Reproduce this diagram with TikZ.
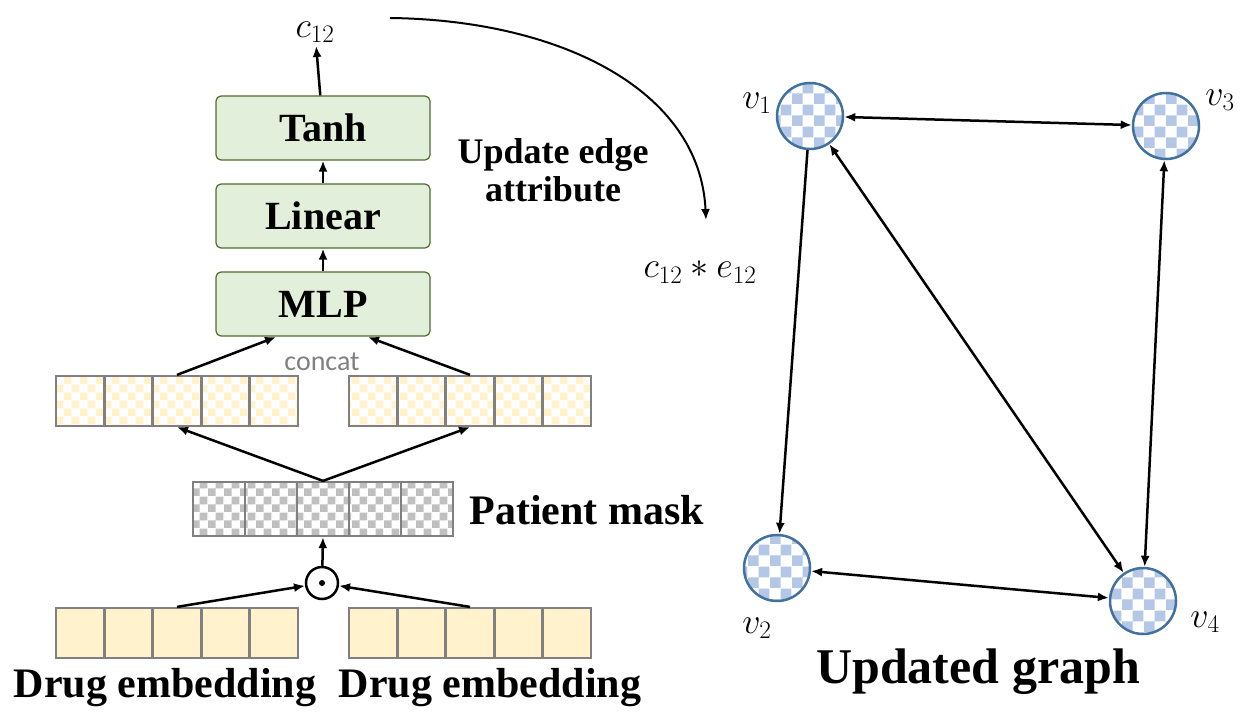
\RequirePackage{fix-cm}
\documentclass[tikz,border=0pt]{standalone}
\usepackage{fontspec}
\setmainfont{Liberation Serif}
\newfontfamily\sansfont{Carlito}
\usetikzlibrary{positioning,arrows.meta,patterns}
\pgfdeclarepatternformonly{smallcheck}{\pgfpointorigin}{\pgfpoint{16pt}{16pt}}{\pgfpoint{16pt}{16pt}}{
  \pgfpathrectangle{\pgfpointorigin}{\pgfpoint{8pt}{8pt}}
  \pgfpathrectangle{\pgfpoint{8pt}{8pt}}{\pgfpoint{8pt}{8pt}}
  \pgfusepath{fill}}
\pgfdeclarepatternformonly{bigcheck}{\pgfpointorigin}{\pgfpoint{22pt}{22pt}}{\pgfpoint{22pt}{22pt}}{
  \pgfpathrectangle{\pgfpointorigin}{\pgfpoint{11pt}{11pt}}
  \pgfpathrectangle{\pgfpoint{11pt}{11pt}}{\pgfpoint{11pt}{11pt}}
  \pgfusepath{fill}}
\definecolor{boxgreen}{HTML}{E2EFDA}
\definecolor{boxedge}{HTML}{4E6B30}
\definecolor{embyellow}{HTML}{FFF2CC}
\definecolor{maskgray}{HTML}{BFBFBF}
\definecolor{nodeblue}{HTML}{B4C7E7}
\definecolor{nodeedge}{HTML}{41719C}
\tikzset{
  layer/.style={draw=boxedge, very thick, fill=boxgreen, rounded corners=5pt,
    minimum width=214pt, minimum height=64pt, font=\fontsize{40}{40}\selectfont\bfseries},
  cell/.style={draw=gray, line width=2.2pt, minimum width=48pt, minimum height=50pt, inner sep=0pt},
  gnode/.style={circle, draw=nodeedge, line width=2.5pt, minimum size=66pt, inner sep=0pt,
    pattern=bigcheck, pattern color=nodeblue},
  arr/.style={-{Latex[length=11pt,width=9pt]}, line width=2.5pt},
  biarr/.style={{Latex[length=11pt,width=9pt]}-{Latex[length=11pt,width=9pt]}, line width=2.5pt},
  math/.style={font=\fontsize{36}{36}\selectfont},
  big/.style={font=\fontsize{42}{42}\selectfont\bfseries}
}
\begin{document}
\begin{tikzpicture}[x=1pt, y=-1pt]
  \useasboundingbox (0,0) rectangle (1248,720);
  % layers
  \node [layer] (mlp) at (323,304) {MLP};
  \node [layer] (linear) at (323,216) {Linear};
  \node [layer] (tanh) at (323,128) {Tanh};
  \node [math] (c12) at (315,32) {$c_{12}$};
  \draw [arr] (mlp) -- (linear);
  \draw [arr] (linear) -- (tanh);
  \draw [arr] (tanh) -- (c12);
  % embedding rows
  \foreach \i in {0,...,4} {
    \node [cell, fill=embyellow] (dl\i) at (80+48.5*\i,633) {};
    \node [cell, fill=embyellow] (dr\i) at (373+48.5*\i,633) {};
    \node [cell, fill=white, pattern=smallcheck, pattern color=embyellow] (hl\i) at (80+48.5*\i,401) {};
    \node [cell, fill=white, pattern=smallcheck, pattern color=embyellow] (hr\i) at (373+48.5*\i,401) {};
    \node [cell, minimum width=52pt, minimum height=54pt, pattern=smallcheck, pattern color=maskgray] (m\i) at (219+52*\i,509) {};
  }
  \node [circle, draw, line width=2.5pt, minimum size=32pt, inner sep=0pt] (odot) at (322,583) {};
  \fill (odot) circle (3pt);
  \draw [arr] (dl2.north) -- (odot);
  \draw [arr] (dr2.north) -- (odot);
  \draw [arr] (odot) -- (m2.south);
  \draw [arr] (m2.north) -- (hl2.south);
  \draw [arr] (m2.north) -- (hr2.south);
  \coordinate (mlpl) at (276,337);
  \coordinate (mlpr) at (368,337);
  \node [gray, font=\sansfont\fontsize{28}{28}\selectfont] (concat) at (322,362) {concat};
  \draw [arr] (hl2.north) -- (mlpl);
  \draw [arr] (hr2.north) -- (mlpr);
  \node [big, anchor=west] (pmask) at (466,510) {Patient mask};
  \node [big] (drugl) at (165,688) {Drug embedding};
  \node [big] (drugr) at (490,688) {Drug embedding};
  \node [font=\fontsize{36}{36}\selectfont\bfseries, align=center] (update) at (553,170) {Update edge\\[2pt] attribute};
  % graph
  \node [gnode] (v1) at (810,116) {};
  \node [gnode] (v3) at (1166,126) {};
  \node [gnode] (v2) at (777,568) {};
  \node [gnode] (v4) at (1143,601) {};
  \node [math] (l1) at (757,103) {$v_1$};
  \node [math] (l3) at (1220,100) {$v_3$};
  \node [math] (l2) at (757,628) {$v_2$};
  \node [math] (l4) at (1205,622) {$v_4$};
  \draw [biarr] (v1) -- (v3);
  \draw [arr] (v1) -- (v2);
  \draw [biarr] (v1) -- (v4);
  \draw [biarr] (v3) -- (v4);
  \draw [biarr] (v2) -- (v4);
  \node [math] (ce) at (700,272) {$c_{12} * e_{12}$};
  \coordinate (cstart) at (390,18);
  \draw [arr, line width=2pt] (cstart) .. controls (560,20) and (700,90) .. (706,220);
  \node [font=\fontsize{50}{50}\selectfont\bfseries] (ugraph) at (978,672) {Updated graph};
\end{tikzpicture}
\end{document}
